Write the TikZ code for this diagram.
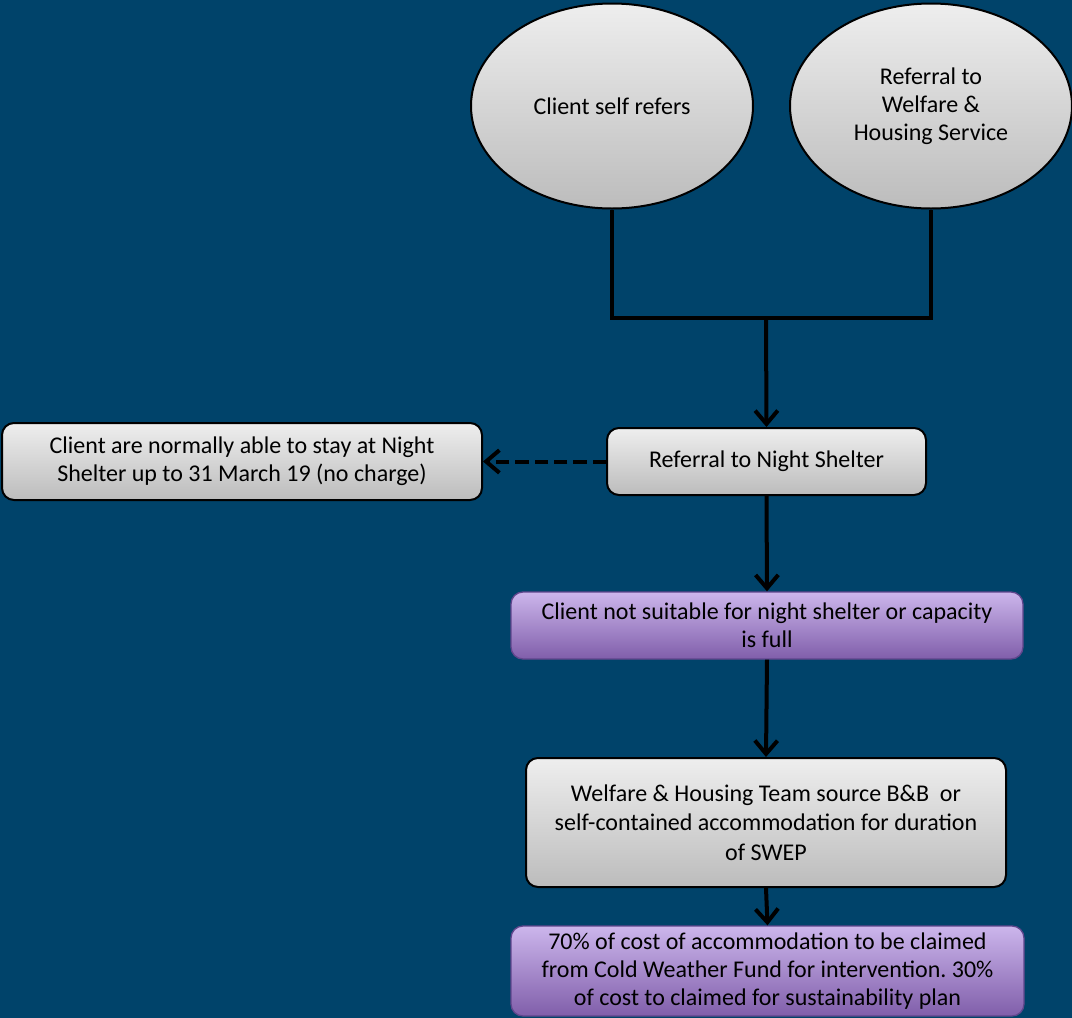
\documentclass[tikz,border=0pt]{standalone}
\usepackage{fontspec}
\setmainfont{Carlito}
\frenchspacing
\usetikzlibrary{shapes.geometric,arrows.meta}
\definecolor{bgblue}{RGB}{0,67,106}
\definecolor{greytop}{RGB}{238,238,238}
\definecolor{greybot}{RGB}{188,188,188}
\definecolor{violettop}{RGB}{204,182,236}
\definecolor{violetbot}{RGB}{128,94,170}
\definecolor{violetline}{RGB}{96,70,140}
\tikzset{
  txt/.style={font=\fontsize{18}{21}\selectfont, align=center, text=black},
  greybox/.style={txt, draw=black, line width=1.5pt, rounded corners=9pt,
    top color=greytop, bottom color=greybot, inner sep=0pt},
  violetbox/.style={txt, draw=violetline, line width=1pt, rounded corners=9pt,
    top color=violettop, bottom color=violetbot, inner sep=0pt},
  oval/.style={txt, ellipse, draw=black, line width=1.5pt,
    top color=greytop, bottom color=greybot, inner sep=0pt,
    minimum width=211.5pt, minimum height=153.75pt},
  link/.style={line width=3pt, black},
  flow/.style={link, -{Straight Barb[length=10pt,width=17pt,line width=3pt]}}
}
\begin{document}
\begin{tikzpicture}[x=0.75pt,y=-0.75pt]
  % Background
  \fill[bgblue] (0,0) rectangle (1072,1018);
  \useasboundingbox (0,0) rectangle (1072,1018);

  % Entry points
  \node[oval] (selfref) at (612,106) {Client self refers};
  \node[oval] (welfare) at (931,106) {Referral to\\Welfare \&\\Housing Service};

  % Steps
  \node[greybox, minimum width=239.25pt, minimum height=50.25pt] (shelter) at (766.5,461.5)
    {Referral to Night Shelter};
  \node[greybox, minimum width=360pt, minimum height=57.75pt] (stay) at (242,461.5)
    {Client are normally able to stay at Night\\Shelter up to 31 March 19 (no charge)};
  \node[violetbox, minimum width=384pt, minimum height=50.25pt] (full) at (767,625.5)
    {Client not suitable for night shelter or capacity\\is full};
  \node[greybox, minimum width=360pt, minimum height=96.75pt,
    font=\fontsize{18}{22}\selectfont] (source) at (766,822.5)
    {Welfare \& Housing Team source B\&B~ or\\self-contained accommodation for duration\\of SWEP};
  \node[violetbox, minimum width=384.75pt, minimum height=67.5pt] (claim) at (767.5,971)
    {70\% of cost of accommodation to be claimed\\from Cold Weather Fund for intervention. 30\%\\of cost to claimed for sustainability plan};

  % Connectors
  \coordinate (join) at (766,318);
  \draw[link] (selfref.south) |- (join) -| (welfare.south);
  \draw[flow] (join) -- (shelter.north);
  \draw[flow, dash pattern=on 10pt off 4.5pt] (shelter.west) -- (stay.east);
  \draw[flow] (shelter.south) -- (full.north);
  \draw[flow] (full.south) -- (source.north);
  \draw[flow] (source.south) -- (claim.north);
\end{tikzpicture}
\end{document}
